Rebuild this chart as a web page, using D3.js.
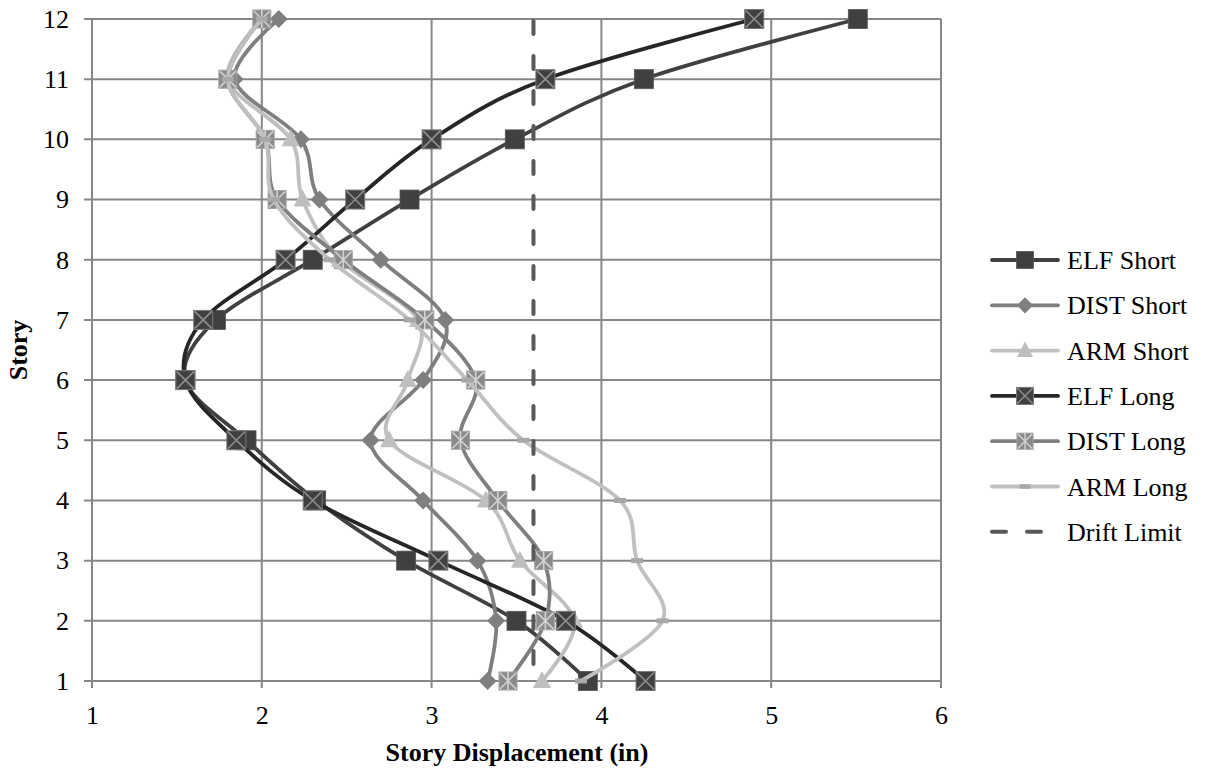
<!DOCTYPE html>
<html>
<head>
<meta charset="utf-8">
<script src="https://cdn.jsdelivr.net/npm/d3@7"></script>
<style>
  html, body { margin: 0; padding: 0; background: #ffffff; }
  svg { display: block; }
  text { font-family: "Liberation Serif", "Times New Roman", serif; fill: #000; }
</style>
</head>
<body>
<svg id="chart" width="1212" height="770"></svg>
<script>
// Story levels (y) and displacements in inches (x)
const stories = [1, 2, 3, 4, 5, 6, 7, 8, 9, 10, 11, 12];
const elfShort  = [3.92, 3.50, 2.85, 2.32, 1.91, 1.55, 1.73, 2.30, 2.87, 3.49, 4.25, 5.51];
const distShort = [3.33, 3.38, 3.27, 2.95, 2.64, 2.95, 3.08, 2.70, 2.34, 2.23, 1.84, 2.10];
const armShort  = [3.65, 3.84, 3.52, 3.32, 2.75, 2.86, 2.92, 2.46, 2.24, 2.17, 1.80, 2.00];
const elfLong   = [4.26, 3.79, 3.04, 2.30, 1.85, 1.55, 1.655, 2.14, 2.55, 3.00, 3.67, 4.90];
const distLong  = [3.45, 3.67, 3.66, 3.39, 3.17, 3.26, 2.96, 2.48, 2.09, 2.02, 1.80, 2.00];
const armLong   = [3.88, 4.36, 4.21, 4.11, 3.54, 3.21, 2.87, 2.40, 2.07, 2.02, 1.80, 2.00];
const driftLimit = 3.6;

const xTicks = [1, 2, 3, 4, 5, 6];
const yTicks = stories;

const seriesNames = ["ELF Short", "DIST Short", "ARM Short", "ELF Long", "DIST Long", "ARM Long"];
const seriesValues = [elfShort, distShort, armShort, elfLong, distLong, armLong];
const seriesLine = ["#404040", "#7f7f7f", "#bfbfbf", "#262626", "#7f7f7f", "#c0c0c0"];
const seriesMarker = ["square", "diamond", "triangle", "xsquare", "starsquare", "dash"];

const svg = d3.select("#chart");
const plot = { left: 92, right: 941, top: 19, bottom: 681 };
const fontSize = "26px";

const x = d3.scaleLinear().domain([1, 6]).range([plot.left, plot.right]);
const y = d3.scaleLinear().domain([1, 12]).range([plot.bottom, plot.top]);

const gridColor = "#878787";

// Grid lines, extended slightly past the axes to form tick marks
const grid = svg.append("g");
grid.selectAll("line.v").data(xTicks).join("line")
  .attr("x1", d => x(d)).attr("x2", d => x(d))
  .attr("y1", plot.top).attr("y2", plot.bottom + 7)
  .attr("stroke", gridColor).attr("stroke-width", 2);
grid.selectAll("line.h").data(yTicks).join("line")
  .attr("x1", plot.left - 8).attr("x2", plot.right)
  .attr("y1", d => y(d)).attr("y2", d => y(d))
  .attr("stroke", gridColor).attr("stroke-width", 2);

// Axis labels
const xAxis = svg.append("g")
  .attr("transform", `translate(0,${plot.bottom})`)
  .call(d3.axisBottom(x).tickValues(xTicks).tickSize(0).tickPadding(25).tickFormat(d3.format("d")));
xAxis.select(".domain").remove();
xAxis.selectAll("text").style("font-size", fontSize).style("font-family", "Liberation Serif");

const yAxis = svg.append("g")
  .attr("transform", `translate(${plot.left},0)`)
  .call(d3.axisLeft(y).tickValues(yTicks).tickSize(0).tickPadding(23).tickFormat(d3.format("d")));
yAxis.select(".domain").remove();
yAxis.selectAll("text").style("font-size", fontSize).style("font-family", "Liberation Serif");

// Axis titles
svg.append("text")
  .attr("x", 517).attr("y", 761)
  .attr("text-anchor", "middle")
  .style("font-size", fontSize).style("font-weight", "bold")
  .text("Story Displacement (in)");
svg.append("text")
  .attr("transform", `translate(27,${(plot.top + plot.bottom) / 2}) rotate(-90)`)
  .attr("text-anchor", "middle")
  .style("font-size", fontSize).style("font-weight", "bold")
  .text("Story");

// Marker drawing
function drawMarker(g, type, cx, cy, s = 1) {
  const m = g.append("g").attr("transform", `translate(${cx},${cy}) scale(${s})`);
  if (type === "square") {
    m.append("rect").attr("x", -9.5).attr("y", -9.5).attr("width", 19).attr("height", 19)
      .attr("fill", "#404040").attr("stroke", "#555").attr("stroke-width", 0.8);
  } else if (type === "diamond") {
    m.append("path").attr("d", "M0,-9 L9,0 L0,9 L-9,0 Z").attr("fill", "#7f7f7f");
  } else if (type === "triangle") {
    m.append("path").attr("d", "M0,-10 L9,7 L-9,7 Z").attr("fill", "#bfbfbf");
  } else if (type === "xsquare") {
    m.append("rect").attr("x", -9.5).attr("y", -9.5).attr("width", 19).attr("height", 19)
      .attr("fill", "#404040").attr("stroke", "#7a7a7a").attr("stroke-width", 1);
    m.append("path").attr("d", "M-8.5,-8.5 L8.5,8.5 M8.5,-8.5 L-8.5,8.5")
      .attr("stroke", "#8f8f8f").attr("stroke-width", 1.6);
  } else if (type === "starsquare") {
    m.append("rect").attr("x", -9).attr("y", -9).attr("width", 18).attr("height", 18)
      .attr("fill", "#8a8a8a").attr("stroke", "#a5a5a5").attr("stroke-width", 1);
    m.append("path").attr("d", "M-8,-8 L8,8 M8,-8 L-8,8 M0,-9 L0,9")
      .attr("stroke", "#d2d2d2").attr("stroke-width", 1.6);
  } else if (type === "dash") {
    m.append("rect").attr("x", -6).attr("y", -2.5).attr("width", 12).attr("height", 5)
      .attr("fill", "#a8a8a8");
  }
}

const line = d3.line()
  .x(d => x(d[0]))
  .y(d => y(d[1]))
  .curve(d3.curveCardinal.tension(0));

// Series lines and markers
seriesValues.forEach((vals, i) => {
  const pts = vals.map((v, k) => [v, stories[k]]);
  const g = svg.append("g");
  g.append("path").datum(pts)
    .attr("d", line)
    .attr("fill", "none")
    .attr("stroke", seriesLine[i])
    .attr("stroke-width", 3.8)
    .attr("stroke-linecap", "round")
    .attr("stroke-linejoin", "round");
  pts.forEach(p => drawMarker(g, seriesMarker[i], x(p[0]), y(p[1])));
});

// Drift limit, dashed from the top story downward
svg.append("line")
  .attr("x1", x(driftLimit)).attr("x2", x(driftLimit))
  .attr("y1", y(12) + 2).attr("y2", y(1))
  .attr("stroke", "#595959").attr("stroke-width", 4)
  .attr("stroke-dasharray", "13,22")
  .attr("stroke-linecap", "round");

// Legend
const legendNames = seriesNames.concat(["Drift Limit"]);
const legend = svg.append("g");
const lx0 = 992, lx1 = 1058, ly0 = 260, ldy = 45.3;
legendNames.forEach((name, i) => {
  const ly = ly0 + i * ldy;
  if (i < seriesNames.length) {
    legend.append("line")
      .attr("x1", lx0).attr("x2", lx1).attr("y1", ly).attr("y2", ly)
      .attr("stroke", seriesLine[i]).attr("stroke-width", 3.8).attr("stroke-linecap", "round");
    drawMarker(legend, seriesMarker[i], (lx0 + lx1) / 2, ly, 0.9);
  } else {
    legend.append("line")
      .attr("x1", lx0).attr("x2", lx1).attr("y1", ly).attr("y2", ly)
      .attr("stroke", "#595959").attr("stroke-width", 4)
      .attr("stroke-dasharray", "14,21").attr("stroke-linecap", "round");
  }
  legend.append("text")
    .attr("x", 1067).attr("y", ly)
    .attr("dy", "0.35em")
    .style("font-size", fontSize)
    .text(name);
});
</script>
</body>
</html>
